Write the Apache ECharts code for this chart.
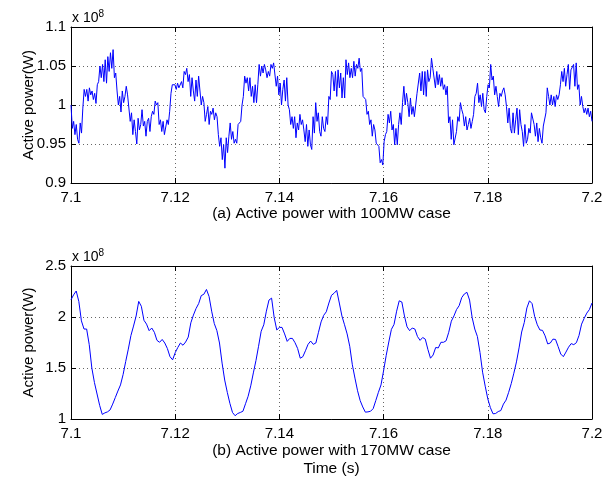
<!DOCTYPE html>
<html>
<head>
<meta charset="utf-8">
<script src="https://cdn.jsdelivr.net/npm/echarts@6/dist/echarts.min.js"></script>
<style>html,body{margin:0;padding:0;background:#fff}#c{width:611px;height:479px}</style>
</head>
<body>
<div id="c"></div>
<script>
// ---- data (power in units of 1e8 W) ----
const tStart = 7.1, tEnd = 7.2;
const xTicks = ['7.1','7.12','7.14','7.16','7.18','7.2'];
const topYTicks = ['0.9','0.95','1','1.05','1.1'];
const botYTicks = ['1','1.5','2','2.5'];
const captionA = '(a) Active power with 100MW case';
const captionB = '(b) Active power with 170MW case';
const xTitle = 'Time (s)';
const yTitle = 'Active power(W)';

// (a) 100MW case, evenly sampled from 7.1 to 7.2
const powerA1 = [1.000,0.970,0.979,0.962,0.975,0.956,0.951,0.977,0.964,0.996,
1.020,1.011,1.020,1.005,1.022,1.013,1.018,1.007,1.015,1.002,
1.026,1.030,1.050,1.035,1.052,1.030,1.058,1.028,1.062,1.043,
1.067,1.047,1.071,1.035,1.041,1.018,1.000,1.011,0.991,1.018,
1.003,1.011,1.024,1.013,1.015,0.979,0.990,0.962,0.981,0.966,
0.950,0.983,0.968,0.975,0.994,0.973,0.979,0.960,0.979,0.983,
0.966,0.985,0.992,0.988,1.005,1.000,1.003,0.975,0.981,0.966,
0.979,0.962,0.960,0.981,0.975,0.992,1.015,1.026,1.024,1.026,
1.020,1.028,1.022,1.024,1.030,1.022,1.043,1.039,1.047,1.030,
1.039,1.011,1.035,1.018,1.005,1.032,1.011,1.037,1.035,1.000];
const powerA2 = [1.011,1.003,0.979,0.988,0.998,0.975,0.992,0.988,0.996,0.981,
0.990,0.985,0.962,0.947,0.958,0.930,0.949,0.919,0.958,0.939,
0.960,0.977,0.956,0.966,0.951,0.956,0.951,0.975,0.977,0.979,
1.000,1.011,1.037,1.028,1.035,1.018,1.035,1.011,1.024,1.003,
1.026,1.003,1.026,1.052,1.037,1.050,1.041,1.052,1.045,1.035,
1.043,1.037,1.052,1.047,1.054,1.052,1.024,1.037,1.013,1.028,
1.000,1.020,1.032,1.005,1.035,1.000,0.994,0.975,0.985,0.970,
0.985,0.958,0.977,0.968,0.988,0.975,0.981,0.968,0.953,0.975,
0.947,0.968,0.949,0.943,0.985,0.964,1.003,0.979,0.990,0.966,
0.960,0.985,0.970,0.966,0.985,0.975,1.011,1.007,1.043];
const powerA3 = [1.039,1.018,1.043,1.011,1.045,1.022,1.041,1.009,1.035,1.009,
1.058,1.039,1.054,1.035,1.047,1.035,1.056,1.037,1.052,1.047,
1.060,1.043,1.047,1.011,1.011,1.007,0.988,0.992,0.975,0.981,
0.960,0.975,0.968,0.951,0.951,0.947,0.926,0.930,0.923,0.953,
0.962,0.966,0.988,0.977,0.992,0.968,0.975,0.949,0.970,0.949,
0.975,0.990,0.975,1.003,1.024,1.000,1.015,1.003,0.985,1.009,
0.988,0.998,0.985,1.000,1.015,1.013,1.041,1.018,1.043,1.013,
1.043,1.011,1.045,1.030,1.035,1.060,1.047,1.045,1.022,1.043,
1.026,1.039,1.024,1.035,1.020,1.026,1.013,1.024,0.977,0.985,
0.956,0.981,0.949,0.947,0.966,0.985,0.979,1.003,0.994];
const powerA4 = [0.988,0.973,0.985,0.968,0.975,0.983,0.970,0.979,0.988,1.011,
1.015,1.028,1.003,1.013,0.998,1.015,0.994,0.990,1.011,1.026,
1.022,1.052,1.032,1.037,1.013,1.024,1.011,0.998,1.015,1.011,
1.018,1.022,1.013,0.998,0.977,0.996,0.970,0.964,0.990,0.964,
0.981,0.996,0.962,0.994,0.975,0.966,0.947,0.975,0.951,0.956,
0.970,0.964,0.990,0.992,0.975,0.960,0.977,0.953,0.970,0.958,
0.951,0.973,0.975,0.990,1.022,1.011,1.000,1.013,1.000,1.011,
0.998,1.013,1.007,1.013,1.026,1.043,1.030,1.047,1.024,1.039,
1.052,1.020,1.045,1.047,1.052,1.024,1.054,1.020,1.026,1.000,
1.011,0.998,0.990,0.996,0.988,0.996,0.985,0.992,0.979];

// (b) 170MW case, evenly sampled from 7.1 to 7.2
const powerB1 = [2.169,2.217,2.255,2.153,1.962,1.882,1.882,1.729,1.500,1.357,
1.245,1.134,1.045,1.060,1.070,1.089,1.146,1.210,1.274,1.334,
1.436,1.564,1.685,1.818,1.911,2.010,2.153,2.105,1.968,1.930,
1.866,1.892,1.850,1.771,1.752,1.780,1.745,1.691,1.611,1.580,
1.650,1.701,1.745,1.723,1.755,1.803,1.943,2.019,2.083,2.131,
2.210,2.223,2.270,2.201,2.057,1.936,1.866,1.745,1.548,1.382,
1.261,1.153,1.064,1.032,1.054,1.064,1.076,1.150];
const powerB2 = [1.223,1.325,1.452,1.573,1.713,1.860,1.924,2.057,2.166,2.185,
1.994,1.873,1.898,1.898,1.834,1.761,1.790,1.790,1.748,1.691,
1.596,1.611,1.669,1.732,1.764,1.732,1.745,1.850,1.952,2.016,
2.051,2.137,2.213,2.233,2.261,2.137,2.010,1.924,1.834,1.713,
1.532,1.401,1.277,1.181,1.118,1.067,1.070,1.076,1.102,1.181,
1.261,1.334,1.474,1.624,1.755,1.879,1.927,2.057,2.159,2.147,
2.010,1.904,1.866,1.892,1.882,1.809,1.771];
const powerB3 = [1.799,1.783,1.682,1.596,1.627,1.701,1.697,1.752,1.752,1.767,
1.850,1.959,2.010,2.073,2.111,2.191,2.226,2.242,2.166,1.994,
1.882,1.809,1.653,1.459,1.322,1.197,1.111,1.051,1.054,1.073,
1.083,1.146,1.185,1.261,1.347,1.449,1.560,1.697,1.853,1.946,
2.089,2.159,2.131,2.003,1.924,1.873,1.869,1.815,1.736,1.745,
1.783,1.780,1.710,1.637,1.611,1.656,1.704,1.739,1.729,1.748,
1.818,1.930,1.987,2.038,2.073,2.137];

const powerA = powerA1.concat(powerA2, powerA3, powerA4);
const powerB = powerB1.concat(powerB2, powerB3);

function toPairs(vals){
  const n = vals.length;
  return vals.map((v,i)=>[tStart + (tEnd - tStart) * i / (n - 1), v]);
}

const FONT = 'Liberation Sans, Arial, Helvetica, sans-serif';
const chart = echarts.init(document.getElementById('c'), null, {renderer:'canvas'});

function fmtX(v){ const s = (+v.toFixed(2)).toString(); return xTicks.indexOf(s) >= 0 ? s : ''; }
function fmtY(list){ return function(v){ const s = (+v.toFixed(3)).toString(); return list.indexOf(s) >= 0 ? s : ''; }; }

function xMain(gi, name, gap){
  return {
    type:'value', gridIndex:gi, position:'bottom', min:7.1, max:7.2, interval:0.02,
    axisLine:{show:true, onZero:false, lineStyle:{color:'#000', width:1}},
    axisTick:{show:true, inside:true, length:5, lineStyle:{color:'#000'}},
    axisLabel:{show:true, formatter:fmtX, color:'#000', fontSize:15, fontFamily:FONT, margin:7},
    splitLine:{show:true, lineStyle:{color:'#666', type:[1,3], width:1}},
    name:name, nameLocation:'middle', nameGap:gap, nameMoveOverlap:false,
    nameTextStyle:{color:'#000', fontSize:15.5, fontFamily:FONT, lineHeight:18}
  };
}
function xTop(gi){
  return {
    type:'value', gridIndex:gi, position:'top', min:7.1, max:7.2, interval:0.02,
    axisLine:{show:true, onZero:false, lineStyle:{color:'#000', width:1}},
    axisTick:{show:true, inside:true, length:5, lineStyle:{color:'#000'}},
    axisLabel:{show:false}, splitLine:{show:false}
  };
}
function yMain(gi, min, max, interval, ticks){
  return {
    type:'value', gridIndex:gi, position:'left', min:min, max:max, interval:interval,
    axisLine:{show:true, onZero:false, lineStyle:{color:'#000', width:1}},
    axisTick:{show:true, inside:true, length:5, lineStyle:{color:'#000'}},
    axisLabel:{show:true, formatter:fmtY(ticks), color:'#000', fontSize:15, fontFamily:FONT, margin:5},
    splitLine:{show:true, lineStyle:{color:'#666', type:[1,3], width:1}},
    name:yTitle, nameLocation:'middle', nameGap:35, nameRotate:90, nameMoveOverlap:false,
    nameTextStyle:{color:'#000', fontSize:15, fontFamily:FONT}
  };
}
function yRight(gi, min, max, interval){
  return {
    type:'value', gridIndex:gi, position:'right', min:min, max:max, interval:interval,
    axisLine:{show:true, onZero:false, lineStyle:{color:'#000', width:1}},
    axisTick:{show:true, inside:true, length:5, lineStyle:{color:'#000'}},
    axisLabel:{show:false}, splitLine:{show:false}
  };
}

const option = {
  animation:false,
  backgroundColor:'#fff',
  grid:[
    {left:71, top:27, width:521, height:156},
    {left:71, top:266, width:521, height:156}
  ],
  xAxis:[ xMain(0, captionA, 22), xTop(0), xMain(1, captionB + '\n' + xTitle, 23), xTop(1) ],
  yAxis:[ yMain(0, 0.9, 1.1, 0.05, topYTicks), yRight(0, 0.9, 1.1, 0.05),
          yMain(1, 1, 2.5, 0.5, botYTicks), yRight(1, 1, 2.5, 0.5) ],
  series:[
    {type:'line', xAxisIndex:0, yAxisIndex:0, data:toPairs(powerA), showSymbol:false,
     lineStyle:{color:'#0000ff', width:1}, itemStyle:{color:'#0000ff'}},
    {type:'line', xAxisIndex:2, yAxisIndex:2, data:toPairs(powerB), showSymbol:false,
     lineStyle:{color:'#0000ff', width:1}, itemStyle:{color:'#0000ff'}}
  ],
  graphic:[
    {type:'text', left:72, top:9, style:{text:'x 10{s|8}', rich:{s:{fontSize:10, verticalAlign:'top', padding:[0,0,8,0]}}, fill:'#000', font:'14px ' + FONT}},
    {type:'text', left:72, top:248, style:{text:'x 10{s|8}', rich:{s:{fontSize:10, verticalAlign:'top', padding:[0,0,8,0]}}, fill:'#000', font:'14px ' + FONT}}
  ]
};
chart.setOption(option);
</script>
</body>
</html>
